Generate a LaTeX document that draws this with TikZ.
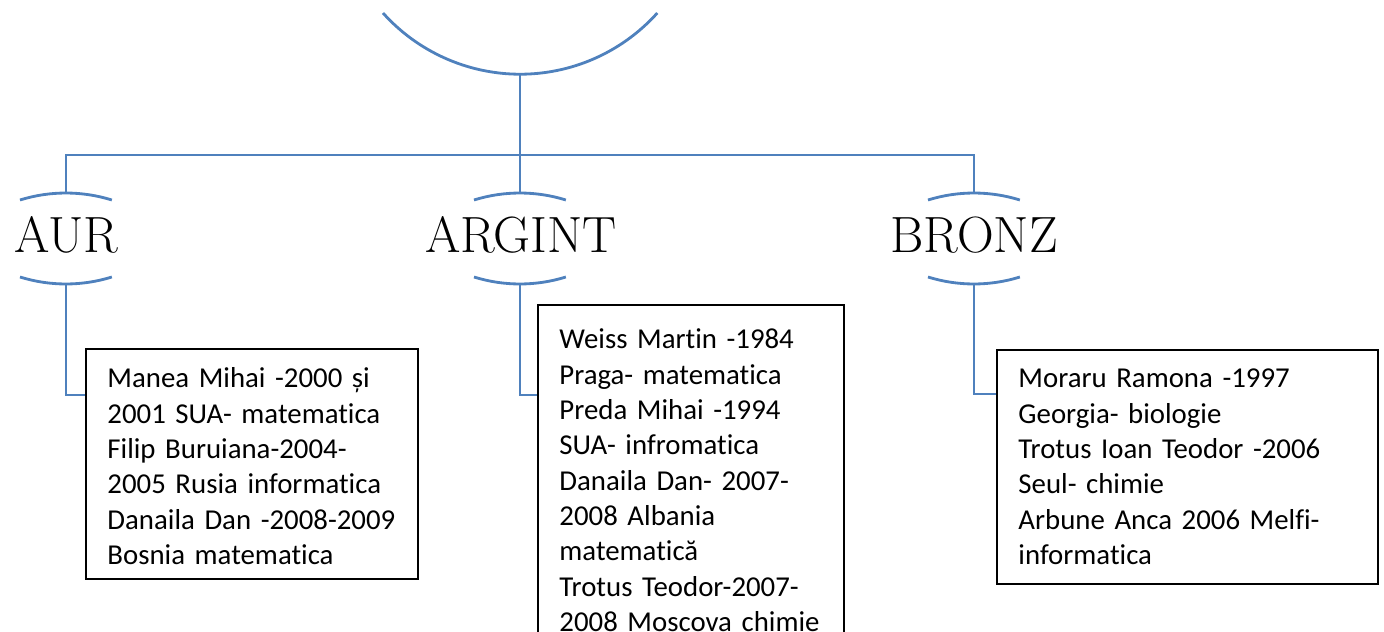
\documentclass[tikz,border=0pt]{standalone}
\usepackage{fontspec}
\usepackage{tikz}
\usetikzlibrary{positioning,calc}
\newfontfamily\cardfont[Ligatures=CommonOff]{Carlito}
\definecolor{steelblue}{RGB}{79,129,189}

\begin{document}
\begin{tikzpicture}[x=0.02cm, y=0.02cm,
    branch/.style={draw=steelblue, line width=1.6pt},
    medal/.style={font=\fontsize{29pt}{30pt}\selectfont, inner sep=0pt, anchor=base},
    card/.style={draw, line width=1.1pt, anchor=north west, align=left, inner xsep=0.43cm, inner ysep=0pt, font=\cardfont\fontsize{16.4pt}{20.1pt}\selectfont}]

    \useasboundingbox (0,0) rectangle (1384,-632);

    % Top node (cut off)
    \coordinate (top) at (520,-74);
    \draw[branch] (383,-13) arc[start angle=221.9, end angle=318.1, radius=3.686cm];

    % Medal labels
    \node[medal] (aur) at (66,-252) {AUR};
    \node[medal] (argint) at (521,-252) {ARGINT};
    \node[medal] (bronz) at (974,-252) {BRONZ};

    % Brackets round the labels
    \foreach \lbl/\x in {aur/66, argint/520, bronz/974} {
        \coordinate (\lbl-t) at (\x,-193);
        \coordinate (\lbl-b) at (\x,-284);
        \draw[branch] (\x-46,-200) arc[start angle=107.3, end angle=72.7, radius=3.09cm];
        \draw[branch] (\x-46,-277) arc[start angle=252.7, end angle=287.3, radius=3.09cm];
    }

    % Record boxes
    \node[card, text width=5.78cm, text height=0.78cm, text depth=3.82cm] (aurbox) at (85,-348) {Manea Mihai -2000 și\\2001 SUA- matematica\\Filip Buruiana-2004-\\2005 Rusia informatica\\Danaila Dan -2008-2009\\Bosnia matematica};
    \node[card, text width=5.26cm, text height=0.88cm, text depth=6.8cm] (argintbox) at (537,-304) {Weiss Martin -1984\\Praga- matematica\\Preda Mihai -1994\\SUA- infromatica\\Danaila Dan- 2007-\\2008 Albania\\matematică\\Trotus Teodor-2007-\\2008 Moscova chimie};
    \node[card, text width=6.76cm, text height=0.76cm, text depth=3.92cm] (bronzbox) at (996,-349) {Moraru Ramona -1997\\Georgia- biologie\\Trotus Ioan Teodor -2006\\Seul- chimie\\Arbune Anca 2006 Melfi-\\informatica};

    % Connections
    \coordinate (bar) at (520,-155);
    \draw[branch] (top) -- (bar) -- (argint-t);
    \draw[branch] (aur-t) |- (bar) -| (bronz-t);
    \draw[branch] (aur-b) |- ([yshift=-0.94cm]aurbox.north west);
    \draw[branch] (argint-b) |- ([yshift=-1.82cm]argintbox.north west);
    \draw[branch] (bronz-b) |- ([yshift=-0.9cm]bronzbox.north west);

\end{tikzpicture}
\end{document}
